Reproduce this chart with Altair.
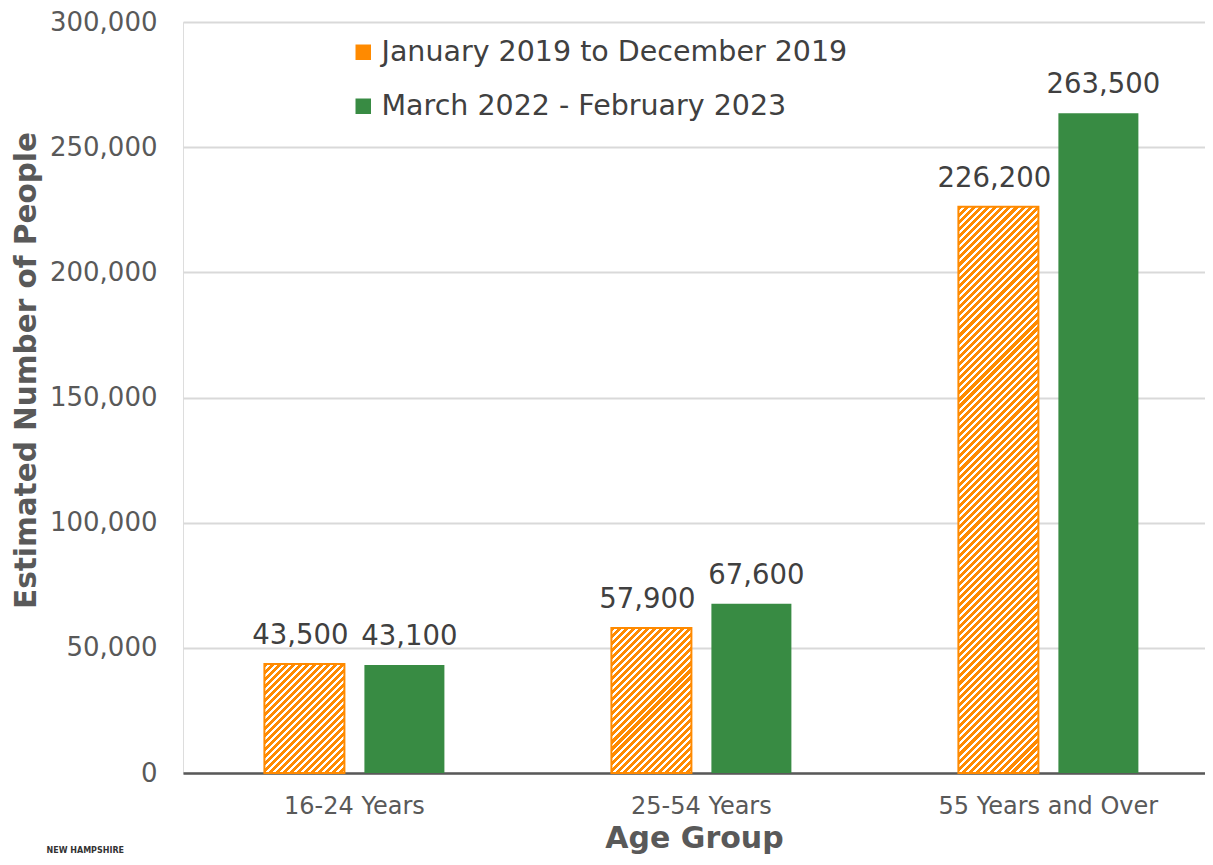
import altair as alt
import pandas as pd

# ---------------- data ----------------
groups = ["16-24 Years", "25-54 Years", "55 Years and Over"]
series = ["January 2019 to December 2019", "March 2022 - February 2023"]
values_2019 = [43500, 57900, 226200]
values_2022 = [43100, 67600, 263500]
y_ticks = [0, 50000, 100000, 150000, 200000, 250000, 300000]

rows = []
for g, a, b in zip(groups, values_2019, values_2022):
    rows.append({"group": g, "period": series[0], "value": a, "label": f"{a:,}"})
    rows.append({"group": g, "period": series[1], "value": b, "label": f"{b:,}"})
df = pd.DataFrame(rows)

# ---------------- style ----------------
ORANGE = "#FF8A00"
GREEN = "#388B43"
GRAY = "#595959"
DARK = "#404040"
FONT = "DejaVu Sans"
PLOT_W, PLOT_H = 1022, 751
Y_MAX = 300000
BAR_W = 80
PERIOD = 5.0      # perpendicular stripe period in px
ORANGE_FRAC = 0.58


def hatch(value, w=BAR_W):
    """Diagonal '/' stripes as a hard-stop linear gradient in bbox units."""
    h = value / Y_MAX * PLOT_H
    s = (1 / h + 1 / w) / (1 / h ** 2 + 1 / w ** 2)
    x2, y2 = s / h, s / w
    n = max(1, round((w + h) / 2 ** 0.5 / PERIOD))
    stops = []
    for k in range(n):
        a, m, b = k / n, (k + ORANGE_FRAC) / n, (k + 1) / n
        stops += [
            {"offset": a, "color": ORANGE},
            {"offset": m, "color": ORANGE},
            {"offset": m, "color": "#FFFFFF"},
            {"offset": b, "color": "#FFFFFF"},
        ]
    return {"gradient": "linear", "x1": 0, "y1": 0, "x2": x2, "y2": y2, "stops": stops}


x_scale = alt.Scale(paddingInner=0.4813, paddingOuter=0.2133, align=0.55)
xo_scale = alt.Scale(paddingInner=0.2, paddingOuter=0)
y_scale = alt.Scale(domain=[0, Y_MAX], nice=False)

x_enc = alt.X(
    "group:N", sort=groups, scale=x_scale, title="Age Group",
    axis=alt.Axis(
        labelAngle=0, labelFontSize=24, labelColor=GRAY, labelFont=FONT, labelLimit=400,
        labelPadding=21, ticks=False, domainColor=GRAY, domainWidth=2.5,
        titleFontSize=30, titleFont=FONT, titleFontWeight="bold", titleColor=GRAY,
        titlePadding=5, grid=False,
    ),
)
xo_enc = alt.XOffset("period:N", sort=series, scale=xo_scale)
y_enc = alt.Y(
    "value:Q", scale=y_scale, title="Estimated Number of People",
    axis=alt.Axis(
        values=y_ticks, format=",d", labelFontSize=26, labelColor=GRAY, labelFont=FONT,
        labelPadding=26, ticks=False, domain=False, gridColor="#D9D9D9", gridWidth=2,
        titleFontSize=29.5, titleFont=FONT, titleFontWeight="bold", titleColor=GRAY,
        titlePadding=8, titleY=348,
    ),
)

base = alt.Chart(df)

bars = base.mark_bar().encode(
    x=x_enc,
    xOffset=xo_enc,
    y=y_enc,
    color=alt.Color(
        "period:N", sort=series,
        scale=alt.Scale(domain=series, range=[ORANGE, GREEN]),
        legend=alt.Legend(
            title=None, orient="none", legendX=166, legendY=16, direction="vertical",
            symbolType="square", symbolSize=240, symbolStrokeWidth=0,
            labelFontSize=28.5, labelFont=FONT, labelColor=DARK, labelOffset=4,
            rowPadding=25, labelLimit=700,
        ),
    ),
)

layers = [bars]
for g, v in zip(groups, values_2019):
    layers.append(
        base.transform_filter(
            (alt.datum.group == g) & (alt.datum.period == series[0])
        ).mark_bar(fill=hatch(v), stroke=ORANGE, strokeWidth=2).encode(
            x=alt.X("group:N", sort=groups),
            xOffset=alt.XOffset("period:N", sort=series),
            y=alt.Y("value:Q"),
        )
    )

for s, shift in zip(series, [-4, 5]):
    layers.append(
        base.transform_filter(alt.datum.period == s).mark_text(
            baseline="bottom", dy=-14, dx=shift, fontSize=27.5, font=FONT, color=DARK
        ).encode(
            x=alt.X("group:N", sort=groups),
            xOffset=alt.XOffset("period:N", sort=series),
            y=alt.Y("value:Q"),
            text="label:N",
        )
    )

chart = alt.layer(*layers).properties(
    width=PLOT_W,
    height=PLOT_H,
    autosize=alt.AutoSizeParams(type="none"),
    padding={"left": 175, "top": 14, "right": 0, "bottom": 84},
    title=alt.TitleParams(
        "NEW HAMPSHIRE", orient="bottom", anchor="start", frame="bounds",
        fontSize=8, font=FONT, fontWeight="bold", color="#333333", dx=35, dy=-10,
    ),
).configure_view(stroke=None).configure(background="white")

chart.save("out.html", embed_options={"renderer": "svg", "actions": False})
